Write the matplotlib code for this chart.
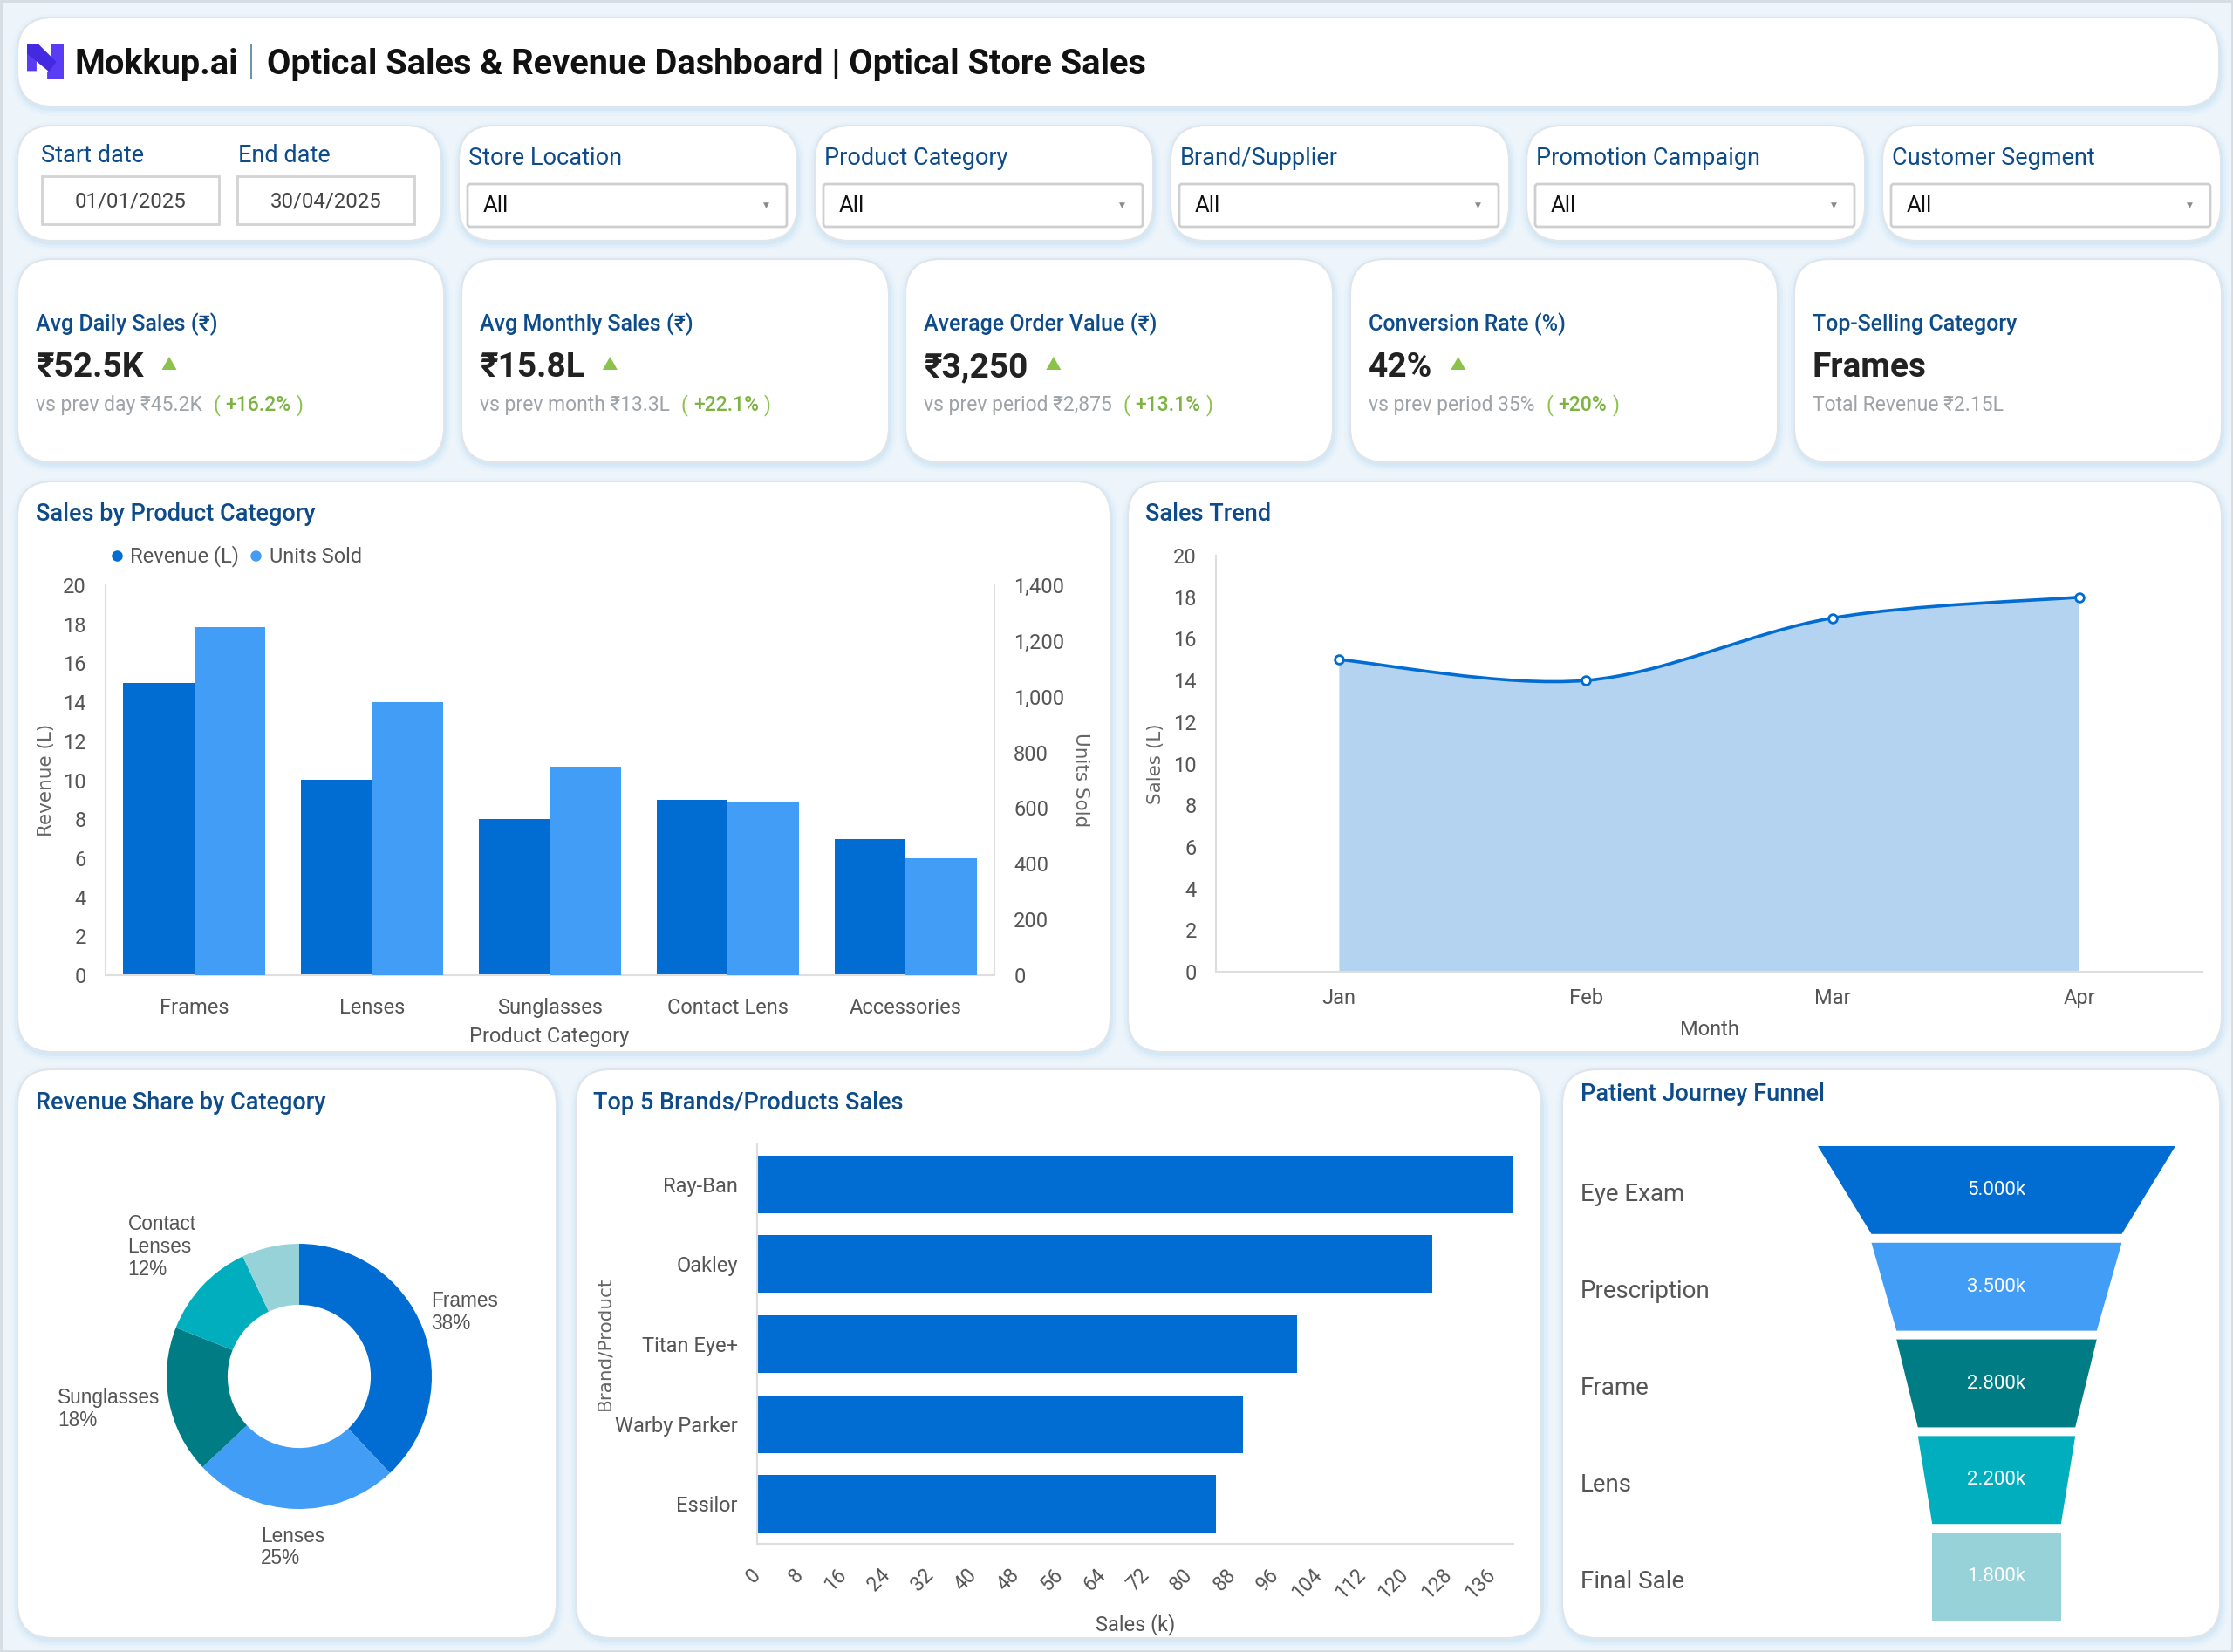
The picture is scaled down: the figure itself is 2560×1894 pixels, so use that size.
import numpy as np
import matplotlib
matplotlib.use("Agg")
import matplotlib.pyplot as plt
from matplotlib.patches import FancyBboxPatch, Polygon, PathPatch, Rectangle
from matplotlib.path import Path
from matplotlib.lines import Line2D
import matplotlib.transforms as mtransforms
from matplotlib.ticker import FuncFormatter

plt.rcParams['font.family'] = ['Roboto', 'Noto Sans', 'DejaVu Sans']

# ---------------- data ----------------
header_brand = "Mokkup.ai"
header_title = "Optical Sales & Revenue Dashboard | Optical Store Sales"
start_date = "01/01/2025"
end_date = "30/04/2025"
filter_labels = ["Store Location", "Product Category", "Brand/Supplier",
                 "Promotion Campaign", "Customer Segment"]
filter_values = ["All", "All", "All", "All", "All"]

kpi_titles = ["Avg Daily Sales (₹)", "Avg Monthly Sales (₹)", "Average Order Value (₹)",
              "Conversion Rate (%)", "Top-Selling Category"]
kpi_values = ["₹52.5K", "₹15.8L", "₹3,250", "42%", "Frames"]
kpi_compare = ["vs prev day ₹45.2K", "vs prev month ₹13.3L", "vs prev period ₹2,875",
               "vs prev period 35%", "Total Revenue ₹2.15L"]
kpi_change = ["+16.2%", "+22.1%", "+13.1%", "+20%", None]

categories = ["Frames", "Lenses", "Sunglasses", "Contact Lens", "Accessories"]
revenue_l = [15, 10, 8, 9, 7]
units_sold = [1250, 980, 750, 620, 420]

months = ["Jan", "Feb", "Mar", "Apr"]
sales_l = [15, 14, 17, 18]

share_labels = ["Frames", "Lenses", "Sunglasses", "Contact\nLenses", "Accessories"]
share_values = [38, 25, 18, 12, 7]

brands = ["Ray-Ban", "Oakley", "Titan Eye+", "Warby Parker", "Essilor"]
brand_sales_k = [140, 125, 100, 90, 85]

funnel_stages = ["Eye Exam", "Prescription", "Frame", "Lens", "Final Sale"]
funnel_values = [5000, 3500, 2800, 2200, 1800]

# ---------------- style ----------------
C_DARK = '#016CD1'
C_LIGHT = '#429DF6'
C_TEAL = '#007C84'
C_TEAL2 = '#00AEBE'
C_TEAL3 = '#97D2D9'
PALETTE = [C_DARK, C_LIGHT, C_TEAL, C_TEAL2, C_TEAL3]
NAVY = '#0D4B8A'
TICK = '#555555'
GREEN = '#8BC34A'
SPINE = '#DEDEDE'

W, H = 2560, 1894
fig = plt.figure(figsize=(W / 100, H / 100), dpi=100)
fig.patch.set_facecolor('#EDF5FB')
bg = fig.add_axes([0, 0, 1, 1])
bg.set_xlim(0, W)
bg.set_ylim(H, 0)
bg.axis('off')


def axes_px(x0, y0, x1, y1):
    a = fig.add_axes([x0 / W, 1 - y1 / H, (x1 - x0) / W, (y1 - y0) / H])
    a.set_facecolor('none')
    return a


def card(x0, y0, x1, y1, r=38):
    for grow, al in [(9, 0.10), (6, 0.15), (3, 0.25)]:
        bg.add_patch(FancyBboxPatch((x0 - grow + 2, y0 - grow + 5), x1 - x0 + 2 * grow - 2,
                                    y1 - y0 + 2 * grow - 3,
                                    boxstyle=f"round,pad=0,rounding_size={r + grow}",
                                    fc='#B5DAF3', ec='none', alpha=al))
    bg.add_patch(FancyBboxPatch((x0, y0), x1 - x0, y1 - y0,
                                boxstyle=f"round,pad=0,rounding_size={r}",
                                fc='white', ec='#E1E5E9', lw=1.5))


def style_spines(a, keep=('left', 'bottom')):
    for s in ['left', 'right', 'top', 'bottom']:
        if s in keep:
            a.spines[s].set_color(SPINE)
            a.spines[s].set_linewidth(1.5)
        else:
            a.spines[s].set_visible(False)


bg.add_patch(Rectangle((1, 1), W - 2, H - 2, fill=False, ec='#D5DCE2', lw=2))

# ---------------- header ----------------
card(20, 20, 2544, 122, r=40)
lx, ly, lw_, lh_ = 31, 51, 42, 40


def L(pts):
    return [(lx + a * lw_, ly + b * lh_) for a, b in pts]


bg.add_patch(Polygon(L([(0, 0.1), (0.26, 0.35), (0.26, 0.76), (0, 0.76)]), fc='#5B3CF5', ec='none'))
bg.add_patch(Polygon(L([(0.66, 0), (1, 0), (1, 1), (0.55, 1), (0.55, 0.78), (0.66, 0.7)]), fc='#5B3CF5', ec='none'))
bg.add_patch(Polygon(L([(0, 0), (0.32, 0), (0.8, 0.5), (0.6, 0.78), (0, 0.26)]), fc='#4329E0', ec='none'))
bg.text(85, 85, header_brand, fontsize=28.6, fontweight='bold', color='#111111', va='baseline')
bg.plot([288, 288], [51, 90], color='#5A8AA3', lw=1.3)
bg.text(306, 85, header_title, fontsize=28.6, fontweight='bold', color='#111111', va='baseline')

# ---------------- filters ----------------
card(20, 144, 506, 276, r=40)
for lab, xl, (bx0, bx1), val in [("Start date", 47, (48, 251), start_date),
                                 ("End date", 273, (272, 475), end_date)]:
    bg.text(xl, 186, lab, fontsize=19.5, color=NAVY, va='baseline')
    bg.add_patch(Rectangle((bx0, 202), bx1 - bx0, 55, fc='white', ec='#D3D3D3', lw=2))
    bg.text((bx0 + bx1) / 2, 237, val, fontsize=17.3, color='#444444', ha='center', va='baseline')

filter_x = [(526, 914), (934, 1322), (1342, 1730), (1750, 2138), (2158, 2546)]
for (x0, x1), lab, val in zip(filter_x, filter_labels, filter_values):
    card(x0, 144, x1, 276, r=40)
    bg.text(x0 + 11, 189, lab, fontsize=19.5, color=NAVY, va='baseline')
    bg.add_patch(FancyBboxPatch((x0 + 10, 211), x1 - x0 - 22, 49,
                                boxstyle="round,pad=0,rounding_size=3",
                                fc='white', ec='#CFCFCF', lw=2))
    bg.text(x0 + 28, 243, val, fontsize=18.5, color='#111111', va='baseline')
    bg.text(x1 - 36, 235, '▼', fontsize=6.5, color='#8A8A8A', ha='center', va='center',
            family=['DejaVu Sans'])

# ---------------- KPI cards ----------------
fig.canvas.draw()
renderer = fig.canvas.get_renderer()


def right_edge(t):
    return t.get_window_extent(renderer).x1


kpi_x = [(20, 509), (529, 1019), (1038, 1528), (1548, 2038), (2057, 2547)]
for (x0, x1), tt, vv, cmp_, chg in zip(kpi_x, kpi_titles, kpi_values, kpi_compare, kpi_change):
    card(x0, 297, x1, 530, r=40)
    bg.text(x0 + 21, 379, tt, fontsize=18, fontweight='medium', color=NAVY, va='baseline')
    tv = bg.text(x0 + 21, 432, vv, fontsize=28, fontweight='bold', color='#222222', va='baseline')
    tc = bg.text(x0 + 21, 471, cmp_, fontsize=16.5, color='#9EA3A8', va='baseline')
    if chg is not None:
        xt = right_edge(tv) + 21
        bg.add_patch(Polygon([(xt, 424), (xt + 17, 424), (xt + 8.5, 409)], fc=GREEN, ec='none'))
        t2 = bg.text(right_edge(tc) + 13, 471, '(', fontsize=16.5, color=GREEN, va='baseline')
        t3 = bg.text(right_edge(t2) + 6, 471, chg, fontsize=16.5, fontweight='medium',
                     color='#7CB342', va='baseline')
        bg.text(right_edge(t3) + 6, 471, ')', fontsize=16.5, color=GREEN, va='baseline')

# ---------------- Sales by Product Category ----------------
card(20, 552, 1273, 1206, r=40)
bg.text(41, 597, "Sales by Product Category", fontsize=19.5, fontweight='medium', color=NAVY, va='baseline')
ax1 = axes_px(121, 671, 1140, 1118)
xc = np.arange(len(categories))
ax1.bar(xc - 0.2, revenue_l, width=0.4, color=C_DARK, zorder=2)
ax1.set_xlim(-0.5, len(categories) - 0.5)
ax1.set_ylim(0, 20)
ax1.set_yticks(np.arange(0, 21, 2))
ax1.set_xticks(xc)
ax1.set_xticklabels(categories)
ax2 = ax1.twinx()
ax2.set_facecolor('none')
ax2.bar(xc + 0.2, units_sold, width=0.4, color=C_LIGHT, zorder=2)
ax2.set_ylim(0, 1400)
ax2.set_yticks(np.arange(0, 1401, 200))
ax2.yaxis.set_major_formatter(FuncFormatter(lambda v, p: f"{int(v):,}"))
style_spines(ax1, ('left', 'bottom'))
style_spines(ax2, ('right',))
ax1.tick_params(axis='y', length=0, pad=16, labelsize=17, labelcolor=TICK)
ax1.tick_params(axis='x', length=0, pad=19, labelsize=17, labelcolor=TICK)
ax2.tick_params(axis='y', length=0, pad=16, labelsize=17, labelcolor=TICK)
bg.text(630, 1188, "Product Category", fontsize=17, color=TICK, ha='center', va='center')
bg.text(53, 894, "Revenue (L)", fontsize=15.5, color='#666666', ha='center', va='center',
        rotation=90, family=['DejaVu Sans'])
bg.text(1239, 894, "Units Sold", fontsize=15.5, color='#666666', ha='center', va='center',
        rotation=-90, family=['DejaVu Sans'])
leg = ax1.legend(handles=[Line2D([], [], ls='', marker='o', ms=8, color=C_DARK),
                          Line2D([], [], ls='', marker='o', ms=8, color=C_LIGHT)],
                 labels=["Revenue (L)", "Units Sold"], ncol=2, loc='center left',
                 bbox_to_anchor=(127, 638), bbox_transform=bg.transData, frameon=False,
                 handlelength=0.6, handletextpad=0.35, columnspacing=0.5, fontsize=17,
                 labelcolor=TICK, borderpad=0, borderaxespad=0)

# ---------------- Sales Trend ----------------
card(1293, 552, 2547, 1206, r=40)
bg.text(1313, 597, "Sales Trend", fontsize=19.5, fontweight='medium', color=NAVY, va='baseline')
axt = axes_px(1394, 637, 2525, 1114)
xm = np.arange(len(months), dtype=float)
ym = np.asarray(sales_l, dtype=float)
pts = np.column_stack([xm, ym])
verts = [tuple(pts[0])]
codes = [Path.MOVETO]
n = len(pts)
for i in range(n - 1):
    p0, p1, p2, p3 = pts[max(i - 1, 0)], pts[i], pts[i + 1], pts[min(i + 2, n - 1)]
    verts += [tuple(p1 + (p2 - p0) / 6), tuple(p2 - (p3 - p1) / 6), tuple(p2)]
    codes += [Path.CURVE4] * 3
fill_verts = verts + [(xm[-1], 0), (xm[0], 0), (xm[0], ym[0])]
fill_codes = codes + [Path.LINETO, Path.LINETO, Path.CLOSEPOLY]
axt.add_patch(PathPatch(Path(fill_verts, fill_codes), fc='#B3D3F1', ec='none', zorder=1))
axt.add_patch(PathPatch(Path(verts, codes), fc='none', ec=C_DARK, lw=2.6, zorder=2))
axt.plot(xm, ym, ls='', marker='o', ms=7, mfc='white', mec=C_DARK, mew=2, zorder=3)
axt.set_xlim(-0.5, len(months) - 0.5)
axt.set_ylim(0, 20)
axt.set_yticks(np.arange(0, 21, 2))
axt.set_xticks(xm)
axt.set_xticklabels(months)
style_spines(axt, ('left', 'bottom'))
axt.tick_params(axis='y', length=0, pad=16, labelsize=17, labelcolor=TICK)
axt.tick_params(axis='x', length=0, pad=14, labelsize=17, labelcolor=TICK)
bg.text(1325, 876, "Sales (L)", fontsize=15.5, color='#666666', ha='center', va='center',
        rotation=90, family=['DejaVu Sans'])
bg.text(1960, 1180, "Month", fontsize=17, color=TICK, ha='center', va='center')

# ---------------- Revenue Share donut ----------------
card(20, 1226, 638, 1878, r=40)
bg.text(41, 1272, "Revenue Share by Category", fontsize=19.5, fontweight='medium', color=NAVY, va='baseline')
R_PX = 152
axd = axes_px(143, 1378, 543, 1778)
wedges, _ = axd.pie(share_values, colors=PALETTE, startangle=90, counterclock=False, radius=1,
                    wedgeprops=dict(width=0.46, edgecolor='none'))
lim = 200 / R_PX
axd.set_xlim(-lim, lim)
axd.set_ylim(-lim, lim)
axd.set_aspect('equal')
total = sum(share_values)
for w, lab, v in zip(wedges, share_labels, share_values):
    pct = 100 * v / total
    if pct < 10:
        continue
    th = np.deg2rad((w.theta1 + w.theta2) / 2)
    cx, cy = np.cos(th), np.sin(th)
    t = axd.text(0, 0, f"{lab}\n{pct:.0f}%", ha='center', va='center', fontsize=16.3,
                 color='#555555', family=['Liberation Sans', 'DejaVu Sans'], clip_on=False,
                 linespacing=1.15, multialignment='left')
    bb = t.get_window_extent(renderer)
    wd, ht = bb.width / R_PX, bb.height / R_PX
    ox = np.clip(cx * 1.5, -1, 1) * wd / 2
    oy = np.clip(cy * 1.5, -1, 1) * ht / 2
    rl = 1.07 + 0.06 * max(0.0, -cy) ** 4
    t.set_position((rl * cx + ox, rl * cy + oy))

# ---------------- Top 5 Brands ----------------
card(660, 1226, 1767, 1878, r=40)
bg.text(680, 1272, "Top 5 Brands/Products Sales", fontsize=19.5, fontweight='medium', color=NAVY, va='baseline')
axb = axes_px(868, 1312, 1735, 1770)
yb = np.arange(len(brands))
axb.barh(yb, brand_sales_k, height=0.72, color=C_DARK, zorder=2)
axb.set_ylim(len(brands) - 0.5, -0.5)
axb.set_xlim(0, max(brand_sales_k))
axb.set_yticks(yb)
axb.set_yticklabels(brands)
axb.set_xticks(np.arange(0, max(brand_sales_k), 8))
style_spines(axb, ('left', 'bottom'))
axb.tick_params(axis='y', length=0, pad=16, labelsize=17, labelcolor=TICK)
axb.tick_params(axis='x', length=0, pad=23, labelsize=16.5, labelcolor=TICK)
for lbl in axb.get_xticklabels():
    lbl.set_rotation(45)
    lbl.set_ha('right')
    lbl.set_va('center')
    lbl.set_rotation_mode('anchor')
bg.text(1302, 1863, "Sales (k)", fontsize=17, color=TICK, ha='center', va='center')
bg.text(693, 1540, "Brand/Product", fontsize=15.5, color='#666666', ha='center', va='center',
        rotation=90, family=['DejaVu Sans'])

# ---------------- Funnel ----------------
card(1791, 1226, 2545, 1878, r=40)
bg.text(1812, 1262, "Patient Journey Funnel", fontsize=19.5, fontweight='medium', color=NAVY, va='baseline')
axf = axes_px(2069, 1309, 2509, 1863)
axf.set_xlim(-2683, 2683)
axf.set_ylim(len(funnel_values), 0)
axf.axis('off')
g = 0.045
nf = len(funnel_values)
blend = mtransforms.blended_transform_factory(bg.transData, axf.transData)
for i, (st, v) in enumerate(zip(funnel_stages, funnel_values)):
    vn = funnel_values[i + 1] if i + 1 < nf else v
    axf.add_patch(Polygon([(-v / 2, i + g), (v / 2, i + g), (vn / 2, i + 1 - g), (-vn / 2, i + 1 - g)],
                          closed=True, fc=PALETTE[i], ec='none'))
    axf.text(0, i + 0.5, f"{v / 1000:.3f}k", ha='center', va='center', fontsize=16, color='white')
    bg.text(1812, i + 0.55, st, transform=blend, ha='left', va='center', fontsize=20, color='#555555')

fig.savefig("out.png", dpi=100, facecolor=fig.get_facecolor())
